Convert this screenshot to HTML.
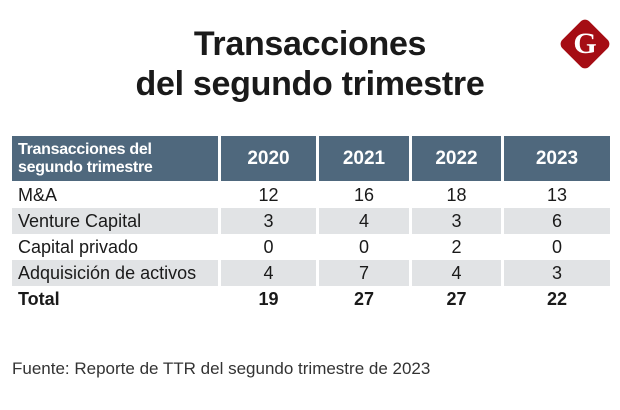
<!DOCTYPE html>
<html><head><meta charset="utf-8"><style>
body{margin:0;width:620px;height:410px;background:#fff;position:relative;overflow:hidden;font-family:"Liberation Sans",sans-serif;color:#1a1a1a}
#title{position:absolute;left:0;width:620px;top:24px;text-align:center;font-weight:bold;font-size:34px;line-height:40px;letter-spacing:-0.3px}
.logo{position:absolute;left:566px;top:25px;width:38px;height:38px;background:#a50d14;transform:rotate(45deg);border-radius:6px}
.logoG{position:absolute;left:565px;top:24px;width:40px;height:40px;text-align:center;line-height:40px;color:#fff;font-family:"Liberation Serif",serif;font-weight:bold;font-size:30px}
table{position:absolute;left:12px;top:136px;border-collapse:separate;border-spacing:3px 0;margin-left:-3px}
td,th{padding:0;height:26px;font-size:18px}
th{background:#4f687d;color:#fff;height:45px;font-size:19px;border-bottom:1px solid #fff}
th.first{text-align:left;font-size:16px;line-height:18px;padding-left:6px;letter-spacing:-0.3px}
td{text-align:center}
td.lab{text-align:left;padding-left:6px}
tr.g td{background:#e1e3e5}
tr.t td{font-weight:bold}
#src{position:absolute;left:12px;top:359px;font-size:17px;color:#333}
</style></head><body>
<div id="title">Transacciones<br>del segundo trimestre</div>
<div class="logo"></div><div class="logoG">G</div>
<table>
<tr><th class="first" style="width:200px">Transacciones del<br>segundo trimestre</th><th style="width:95px">2020</th><th style="width:90px">2021</th><th style="width:89px">2022</th><th style="width:106px">2023</th></tr>
<tr><td class="lab">M&amp;A</td><td>12</td><td>16</td><td>18</td><td>13</td></tr>
<tr class="g"><td class="lab">Venture Capital</td><td>3</td><td>4</td><td>3</td><td>6</td></tr>
<tr><td class="lab">Capital privado</td><td>0</td><td>0</td><td>2</td><td>0</td></tr>
<tr class="g"><td class="lab">Adquisición de activos</td><td>4</td><td>7</td><td>4</td><td>3</td></tr>
<tr class="t"><td class="lab">Total</td><td>19</td><td>27</td><td>27</td><td>22</td></tr>
</table>
<div id="src">Fuente: Reporte de TTR del segundo trimestre de 2023</div>
</body></html>
